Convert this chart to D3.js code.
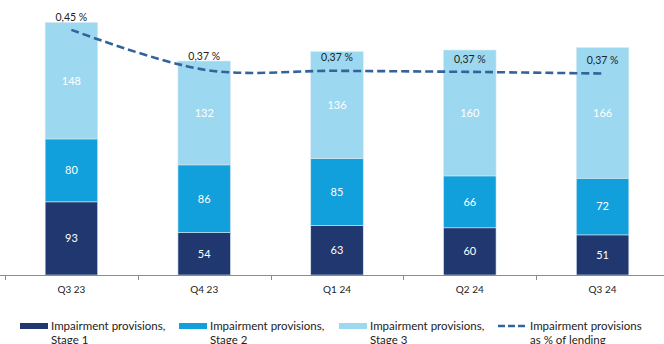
<!DOCTYPE html>
<html>
<head>
<meta charset="utf-8">
<script src="https://cdn.jsdelivr.net/npm/d3@7"></script>
<style>
  body { margin: 0; background: #fff; }
  svg { display: block; font-family: Lato, "Open Sans", sans-serif; }
</style>
</head>
<body>
<svg width="664" height="344"></svg>
<script>
const quarters = ['Q3 23', 'Q4 23', 'Q1 24', 'Q2 24', 'Q3 24'];
const stage1 = [93, 54, 63, 60, 51];
const stage2 = [80, 86, 85, 66, 72];
const stage3 = [148, 132, 136, 160, 166];
const pctLending = [0.449, 0.376, 0.374, 0.372, 0.369];
const pctLabels = ['0,45 %', '0,37 %', '0,37 %', '0,37 %', '0,37 %'];

const colors = ['#20386f', '#12a0dc', '#9cd9f0'];
const lineColor = '#33639a';

var svg = d3.select('svg');
var baseY = 275;

let x = d3.scaleBand()
	.domain(quarters)
	.range([5, 669])
	.paddingInner(0)
	.paddingOuter(0);

let y = d3.scaleLinear()
	.domain([0, 321])
	.range([baseY, 22.5]);

let yPct = d3.scaleLinear()
	.domain([0, 0.5])
	.range([baseY, 2]);

let data = quarters.map((q, i) => ({ q: q, s1: stage1[i], s2: stage2[i], s3: stage3[i] }));
let stack = d3.stack().keys(['s1', 's2', 's3'])(data);

let barW = 52.5;

// bars
let layers = svg.append('g')
	.selectAll('g')
	.data(stack)
	.join('g')
	.attr('fill', (d, i) => colors[i]);

layers.selectAll('rect')
	.data(d => d)
	.join('rect')
	.attr('x', d => x(d.data.q) + x.bandwidth() / 2 - barW / 2)
	.attr('width', barW)
	.attr('y', d => y(d[1]))
	.attr('height', d => y(d[0]) - y(d[1]))
	.attr('stroke', '#d8e6f2')
	.attr('stroke-width', 0.6);

layers.selectAll('text')
	.data(d => d)
	.join('text')
	.attr('x', d => x(d.data.q) + x.bandwidth() / 2)
	.attr('y', d => (y(d[0]) + y(d[1])) / 2)
	.attr('dy', '0.35em')
	.attr('text-anchor', 'middle')
	.attr('fill', '#fff')
	.attr('font-size', 11)
	.text(d => d[1] - d[0]);

// axis
let axis = d3.axisBottom(x).tickSize(0).tickPadding(11);
let gx = svg.append('g')
	.attr('transform', `translate(0,${baseY})`)
	.call(axis);
gx.select('.domain').attr('stroke', '#8c8c8c').attr('d', `M0,0.5H664`);
gx.selectAll('text').attr('font-size', 10).attr('fill', '#222').attr('font-family', 'Lato, sans-serif');

// category boundary ticks
svg.append('g')
	.selectAll('line')
	.data(quarters)
	.join('line')
	.attr('x1', d => Math.round(x(d)) + 0.5)
	.attr('x2', d => Math.round(x(d)) + 0.5)
	.attr('y1', baseY)
	.attr('y2', baseY + 5)
	.attr('stroke', '#8c8c8c');

// % of lending line
let line = d3.line()
	.x((d, i) => x(quarters[i]) + x.bandwidth() / 2)
	.y(d => yPct(d))
	.curve(d3.curveCardinal.tension(0));

svg.append('path')
	.datum(pctLending)
	.attr('d', line)
	.attr('fill', 'none')
	.attr('stroke', lineColor)
	.attr('stroke-width', 2.6)
	.attr('stroke-dasharray', '8,4');

svg.append('g')
	.selectAll('text')
	.data(pctLending)
	.join('text')
	.attr('x', (d, i) => x(quarters[i]) + x.bandwidth() / 2)
	.attr('y', d => yPct(d) - 13)
	.attr('dy', '0.35em')
	.attr('text-anchor', 'middle')
	.attr('font-size', 10.5)
	.attr('fill', '#222')
	.text((d, i) => pctLabels[i]);

// legend
let legendItems = [
	{ x: 20, lines: ['Impairment provisions,', 'Stage 1'], color: colors[0], type: 'rect' },
	{ x: 179, lines: ['Impairment provisions,', 'Stage 2'], color: colors[1], type: 'rect' },
	{ x: 339, lines: ['Impairment provisions,', 'Stage 3'], color: colors[2], type: 'rect' },
	{ x: 498, lines: ['Impairment provisions', 'as % of lending'], color: lineColor, type: 'line' }
];

let lg = svg.append('g')
	.selectAll('g')
	.data(legendItems)
	.join('g')
	.attr('transform', d => `translate(${d.x},326)`);

lg.filter(d => d.type == 'rect')
	.append('rect')
	.attr('x', 0)
	.attr('y', -3)
	.attr('width', 28)
	.attr('height', 6)
	.attr('fill', d => d.color);

lg.filter(d => d.type == 'line')
	.append('line')
	.attr('x1', 0)
	.attr('x2', 27)
	.attr('y1', 0)
	.attr('y2', 0)
	.attr('stroke', d => d.color)
	.attr('stroke-width', 2.6)
	.attr('stroke-dasharray', '7,3');

lg.append('text')
	.attr('x', d => d.type == 'line' ? 32 : 31)
	.attr('font-size', 11.5)
	.attr('fill', '#222')
	.selectAll('tspan')
	.data(d => d.lines)
	.join('tspan')
	.attr('x', function() { return d3.select(this.parentNode).attr('x'); })
	.attr('y', (d, i) => i * 14)
	.attr('dy', '0.35em')
	.text(d => d);
</script>
</body>
</html>
